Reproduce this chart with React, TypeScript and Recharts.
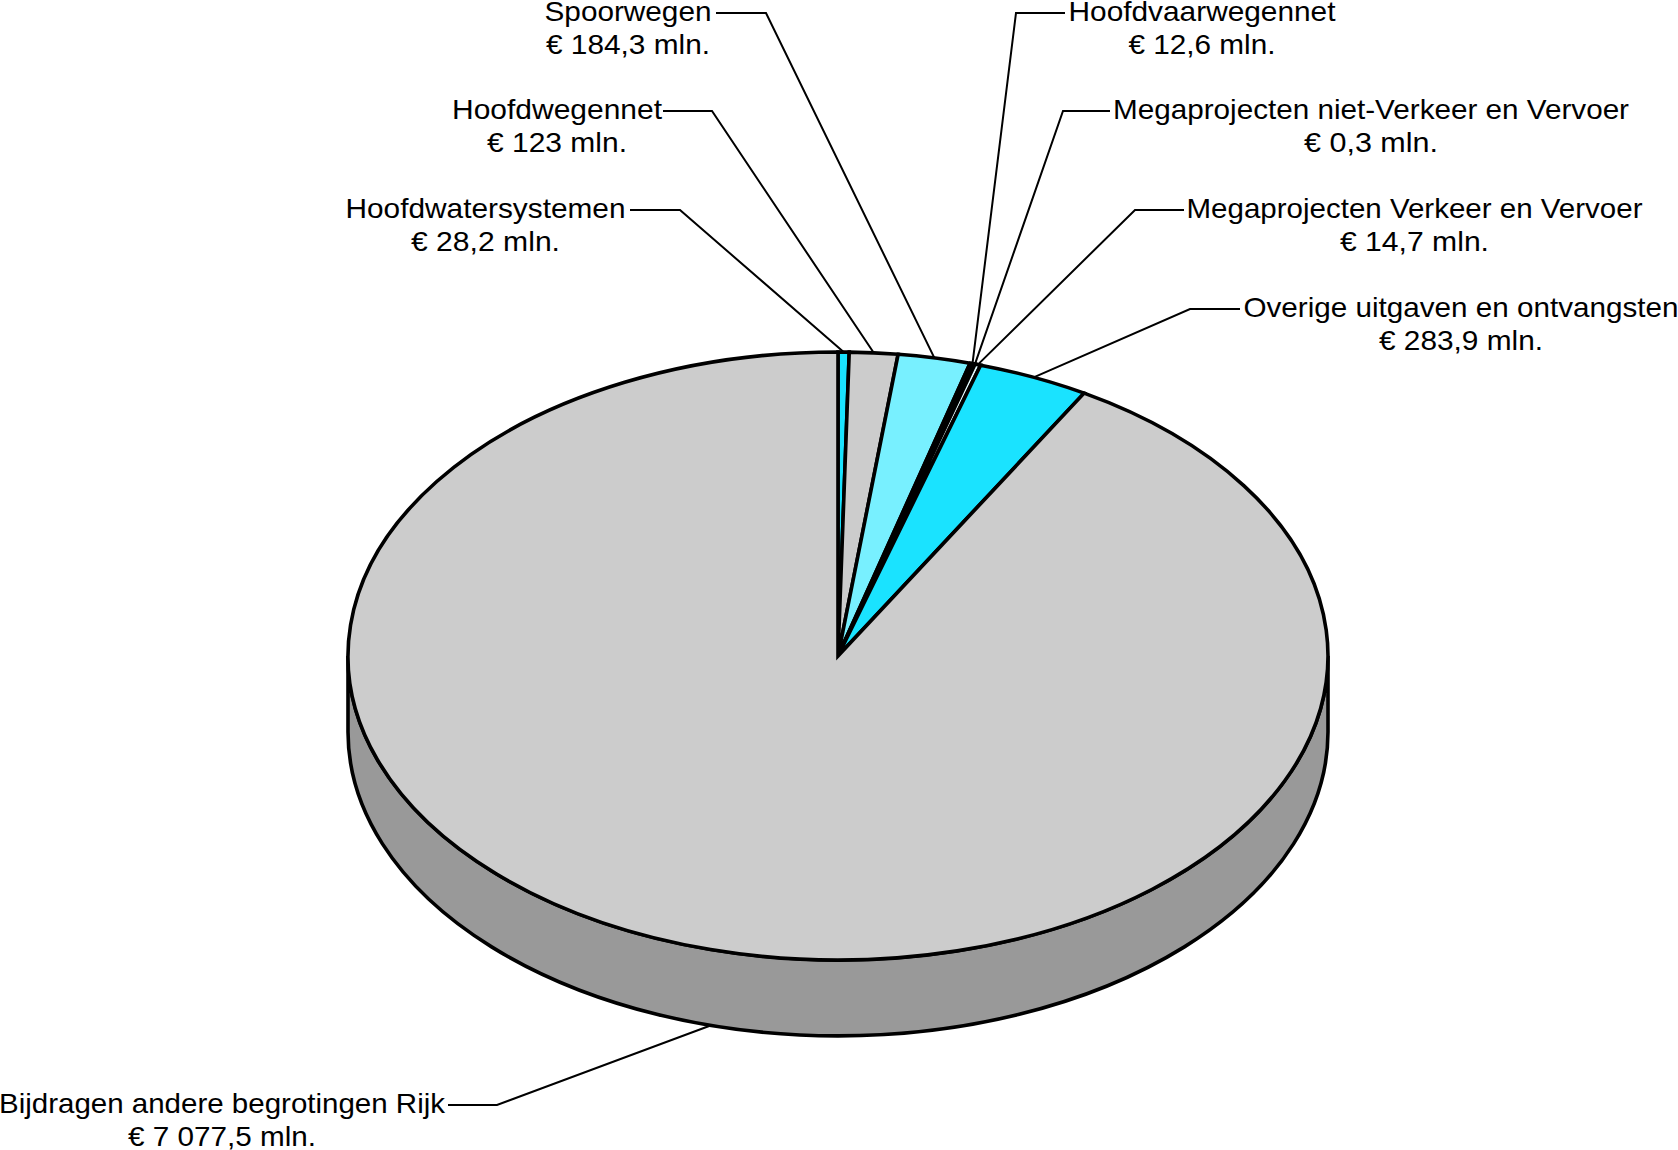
import React from 'react';
import { PieChart, Pie, Cell } from 'recharts';

const categories = [
  'Hoofdwatersystemen',
  'Hoofdwegennet',
  'Spoorwegen',
  'Hoofdvaarwegennet',
  'Megaprojecten niet-Verkeer en Vervoer',
  'Megaprojecten Verkeer en Vervoer',
  'Overige uitgaven en ontvangsten',
  'Bijdragen andere begrotingen Rijk',
];
const amounts = [28.2, 123, 184.3, 12.6, 0.3, 14.7, 283.9, 7077.5];
const amountLabels = [
  '€ 28,2 mln.',
  '€ 123 mln.',
  '€ 184,3 mln.',
  '€ 12,6 mln.',
  '€ 0,3 mln.',
  '€ 14,7 mln.',
  '€ 283,9 mln.',
  '€ 7 077,5 mln.',
];
const sliceColors = ['#1AE3FF', '#CCCCCC', '#78F0FF', '#000000', '#CCCCCC', '#E6FBFF', '#1AE3FF', '#CCCCCC'];

// label layout: elbow of the leader, end of leader next to text, leader y, text centre, text widths
const elbowX = [680, 712, 766, 1016, 1063, 1135, 1190, 497];
const leaderEndX = [630, 663, 716, 1065, 1110, 1184, 1240, 448];
const leaderY = [210, 111, 13, 13, 111, 210, 309, 1105];
const textCenter = [485.5, 557, 628, 1202, 1371, 1414.5, 1461, 222];
const nameWidth = [280, 210, 167, 267, 516, 456, 435, 446];
const amountWidth = [149, 140, 164, 147, 134, 149, 164, 188];

const data = categories.map((name, i) => ({ name, value: amounts[i] }));

const W = 1678;
const H = 1150;
const CX = 838;
const CY = 656;
const RX = 490;
const TILT = 304 / 490;
const DEPTH = 76;
const WALL = '#999999';
const FONT = '"Liberation Sans", Arial, sans-serif';
const OUTLINE = 3.6;

const pt = (cx: number, cy: number, rx: number, a: number) => {
  const r = (a * Math.PI) / 180;
  return [cx + rx * Math.cos(r), cy - rx * TILT * Math.sin(r)];
};

const TopSlice = (p: any) => {
  const { cx, cy, outerRadius: rx, startAngle, endAngle, fill } = p;
  const [x1, y1] = pt(cx, cy, rx, startAngle);
  const [x2, y2] = pt(cx, cy, rx, endAngle);
  const large = Math.abs(startAngle - endAngle) > 180 ? 1 : 0;
  return (
    <path
      d={`M${cx},${cy}L${x1},${y1}A${rx},${rx * TILT} 0 ${large} 1 ${x2},${y2}Z`}
      fill={fill}
      stroke="#000"
      strokeWidth={OUTLINE}
      strokeLinejoin="miter"
    />
  );
};

const WallSlice = (p: any) => {
  const { cx, cy, outerRadius: rx, startAngle, endAngle } = p;
  const a1 = Math.min(startAngle, 0);
  const a2 = Math.max(endAngle, -180);
  if (a1 <= a2) return <g />;
  const [x1, y1] = pt(cx, cy, rx, a1);
  const [x2, y2] = pt(cx, cy, rx, a2);
  const ry = rx * TILT;
  return (
    <path
      d={`M${x1},${y1}A${rx},${ry} 0 0 1 ${x2},${y2}L${x2},${y2 + DEPTH}A${rx},${ry} 0 0 0 ${x1},${y1 + DEPTH}Z`}
      fill={WALL}
      stroke="#000"
      strokeWidth={OUTLINE}
    />
  );
};

const SliceLabel = (p: any) => {
  const { cx, cy, outerRadius: rx, midAngle, index } = p;
  const [ex, ey0] = pt(cx, cy, rx, midAngle);
  const ey = Math.sin((midAngle * Math.PI) / 180) < 0 ? ey0 + DEPTH : ey0;
  const y = leaderY[index];
  const common = {
    x: textCenter[index],
    textAnchor: 'middle' as const,
    fontFamily: FONT,
    fontSize: 28,
    fill: '#000',
    lengthAdjust: 'spacingAndGlyphs' as const,
  };
  return (
    <g>
      <polyline
        points={`${ex},${ey} ${elbowX[index]},${y} ${leaderEndX[index]},${y}`}
        fill="none"
        stroke="#000"
        strokeWidth={2}
      />
      <text {...common} y={y + 8} textLength={nameWidth[index]}>
        {categories[index]}
      </text>
      <text {...common} y={y + 40.5} textLength={amountWidth[index]}>
        {amountLabels[index]}
      </text>
    </g>
  );
};

export default function App() {
  return (
    <div style={{ position: 'absolute', left: 0, top: 0, width: W, height: H, background: '#fff' }}>
      <PieChart width={W} height={H} margin={{ top: 0, right: 0, bottom: 0, left: 0 }}>
        <Pie
          data={data}
          dataKey="value"
          nameKey="name"
          cx={CX}
          cy={CY}
          innerRadius={0}
          outerRadius={RX}
          startAngle={90}
          endAngle={-270}
          isAnimationActive={false}
          shape={WallSlice}
          inactiveShape={WallSlice}
          activeShape={WallSlice}
          label={false}
          labelLine={false}
        />
        <Pie
          data={data}
          dataKey="value"
          nameKey="name"
          cx={CX}
          cy={CY}
          innerRadius={0}
          outerRadius={RX}
          startAngle={90}
          endAngle={-270}
          isAnimationActive={false}
          shape={TopSlice}
          inactiveShape={TopSlice}
          activeShape={TopSlice}
          label={SliceLabel}
          labelLine={false}
        >
          {sliceColors.map((c, i) => (
            <Cell key={categories[i]} fill={c} />
          ))}
        </Pie>
      </PieChart>
    </div>
  );
}
